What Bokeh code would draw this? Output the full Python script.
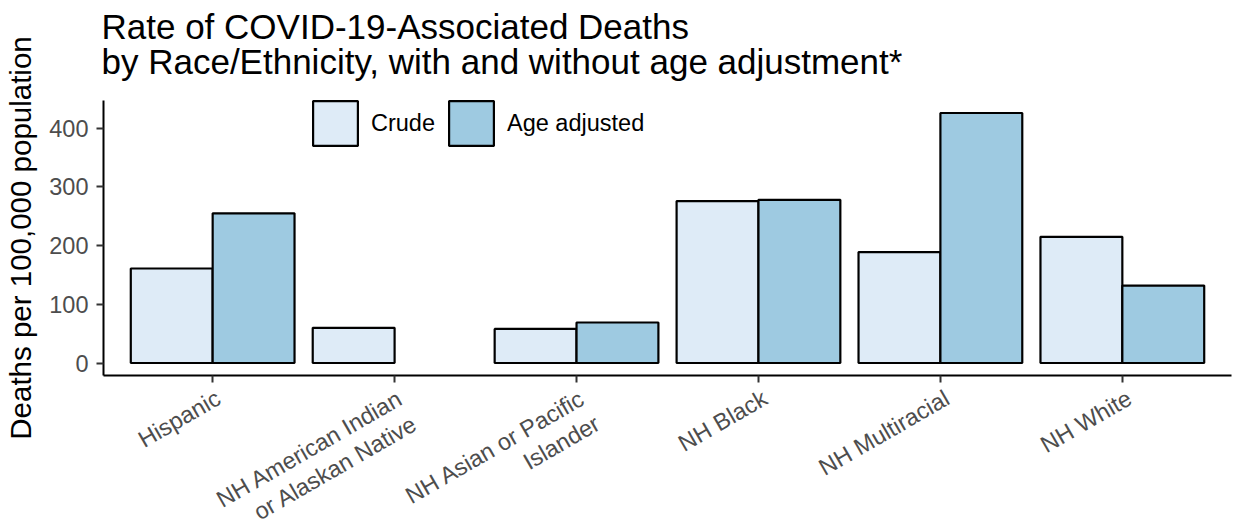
import math
from bokeh.plotting import figure
from bokeh.layouts import column, row
from bokeh.models import (FactorRange, Range1d, FixedTicker, ColumnDataSource, Legend, LegendItem)
from bokeh.transform import dodge
from bokeh.core.properties import value
from bokeh.embed import file_html
from bokeh.resources import INLINE

categories = ["Hispanic", "NH American Indian\nor Alaskan Native", "NH Asian or Pacific\nIslander",
              "NH Black", "NH Multiracial", "NH White"]
crude = [161, 60, 58, 276, 189, 215]
age_adjusted = [255, None, 69, 278, 426, 132]
series_names = ["Crude", "Age adjusted"]
y_ticks = [0, 100, 200, 300, 400]
title_lines = ["Rate of COVID-19-Associated Deaths",
               "by Race/Ethnicity, with and without age adjustment*"]
y_label = "Deaths per 100,000 population"

FONT = "Liberation Sans"
colors = ["#DEEBF7", "#9ECAE1"]
W, H = 1235, 529
YLAB_W = 46                      # strip holding the y-axis title
CW = W - YLAB_W                  # width of the right-hand column
LEFT, RIGHT = 101 - YLAB_W, 4    # borders around the plotting frame
TITLE_H, MAIN_H, LAB_H = 100, 284, 145

src = ColumnDataSource(dict(
    cat=categories,
    crude=crude,
    adj=[float("nan") if v is None else v for v in age_adjusted],
))

ymax = max(max(crude), max(v for v in age_adjusted if v is not None))
pad = 0.05 * ymax
x_range = FactorRange(factors=categories, range_padding=0.1, range_padding_units="absolute")


def strip(width, height, x_range, y_range, left=0, right=0):
    f = figure(width=width, height=height, output_backend="svg", toolbar_location=None, title=None,
               x_range=x_range, y_range=y_range, x_axis_location=None, y_axis_location=None,
               min_border_left=left, min_border_right=right, min_border_top=0, min_border_bottom=0,
               frame_align=False)
    f.xgrid.visible = False
    f.ygrid.visible = False
    f.outline_line_color = None
    return f


# ---- y-axis title strip (pixel coordinates, y downwards) ----
py = strip(YLAB_W, H, Range1d(0, YLAB_W), Range1d(H, 0))
py.text(x=[20], y=[237.5], text=[y_label], angle=math.pi / 2, text_font=value(FONT),
        text_font_size="29.5px", text_color="black", text_align="center", text_baseline="alphabetic")

# ---- title strip (pixel coordinates, y downwards) ----
pt = strip(CW, TITLE_H, Range1d(0, CW), Range1d(TITLE_H, 0))
pt.text(x=[LEFT, LEFT], y=[25.5, 60.5], text=title_lines, text_font=value(FONT),
        text_font_size="35px", text_color="black", text_align="left", text_baseline="alphabetic")

# ---- main chart ----
p = figure(width=CW, height=MAIN_H, output_backend="svg", toolbar_location=None, title=None,
           x_range=x_range, y_range=Range1d(-pad, ymax + pad), frame_align=False,
           min_border_left=LEFT, min_border_right=RIGHT, min_border_bottom=9, min_border_top=0)
p.xgrid.visible = False
p.ygrid.visible = False
p.outline_line_color = None

r1 = p.vbar(x=dodge("cat", -0.225, range=x_range), top="crude", bottom=0, width=0.45, source=src,
            fill_color=colors[0], line_color="black", line_width=2.2)
r2 = p.vbar(x=dodge("cat", 0.225, range=x_range), top="adj", bottom=0, width=0.45, source=src,
            fill_color=colors[1], line_color="black", line_width=2.2)

legend = Legend(items=[LegendItem(label=series_names[0], renderers=[r1]),
                       LegendItem(label=series_names[1], renderers=[r2])],
                orientation="horizontal", location=(204, 224),
                glyph_width=56, glyph_height=56, label_standoff=8, spacing=8,
                padding=0, margin=0, border_line_color=None, background_fill_alpha=0,
                label_text_font=FONT, label_text_font_size="23.5px", label_text_color="black")
p.add_layout(legend, "center")

for ax in (p.xaxis[0], p.yaxis[0]):
    ax.axis_line_color = "black"
    ax.axis_line_width = 2
    ax.major_tick_line_color = "#333333"
    ax.major_tick_line_width = 2
    ax.major_tick_out = 7
    ax.major_tick_in = 0
    ax.minor_tick_line_color = None
    ax.major_label_text_font = FONT
    ax.major_label_text_font_size = "23.5px"
    ax.major_label_text_color = "#4D4D4D"
    ax.major_label_standoff = 8

p.yaxis.ticker = FixedTicker(ticks=y_ticks)

# the category names are drawn rotated in the strip below (same x range)
p.xaxis.major_label_text_color = None
p.xaxis.major_label_text_font_size = "0px"
p.xaxis.major_label_standoff = 0

# ---- category label strip ----
pl = strip(CW, LAB_H, x_range, Range1d(-LAB_H, 0), left=LEFT, right=RIGHT)
pl.text(x="cat", y=-0.5, text="cat", source=src, angle=math.pi / 6,
        text_align="right", text_baseline="top", x_offset=1,
        text_font=value(FONT), text_font_size="23.5px", text_color="#4D4D4D",
        text_line_height=1.13)

layout = row(py, column(pt, p, pl, spacing=0), spacing=0)
open("out.html", "w").write(file_html(layout, INLINE))
